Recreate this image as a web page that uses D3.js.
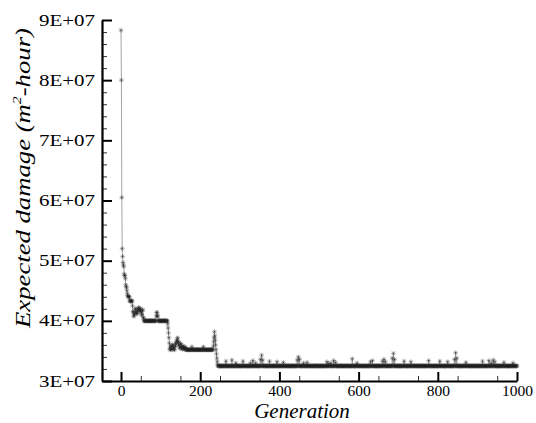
<!DOCTYPE html>
<html>
<head>
<meta charset="utf-8">
<script src="https://cdn.jsdelivr.net/npm/d3@7"></script>
<style>
  html, body { margin: 0; padding: 0; background: #fff; }
  svg { display: block; }
</style>
</head>
<body>
<svg id="chart" width="536" height="423"></svg>
<script>
// ---------------- DATA ----------------
// Run-length description of the series: value holds from runStart[i] until the next run start.
const runStart = [
  0, 1, 2, 3, 4, 5, 6, 7, 8, 9, 11, 12, 13, 14, 15, 16, 17, 18, 22, 29,
  30, 32, 34, 36, 38, 40, 42, 44, 46, 48, 50, 52, 54, 56, 58,
  89, 90, 92, 94,
  118, 119, 120, 121, 122, 123,
  124, 126, 128, 130, 132, 134, 136, 138, 140, 142, 143, 144, 146, 148, 150, 152, 154, 156, 158, 160, 162,
  164, 179, 180, 208, 209,
  233, 234, 235, 236, 237, 238, 239, 240, 241, 242, 243, 244, 245
];
const runValue = [
  8.83e7, 8.0e7, 6.05e7, 5.2e7, 5.07e7, 4.97e7, 4.93e7, 4.9e7, 4.78e7, 4.75e7, 4.7e7, 4.6e7, 4.57e7, 4.55e7, 4.5e7, 4.45e7, 4.42e7, 4.4e7, 4.33e7, 4.25e7,
  4.15e7, 4.08e7, 4.12e7, 4.2e7, 4.15e7, 4.12e7, 4.18e7, 4.22e7, 4.17e7, 4.2e7, 4.15e7, 4.1e7, 4.18e7, 4.05e7, 4.0e7,
  4.08e7, 4.14e7, 4.08e7, 4.0e7,
  3.95e7, 3.88e7, 3.8e7, 3.72e7, 3.63e7, 3.55e7,
  3.52e7, 3.58e7, 3.53e7, 3.6e7, 3.55e7, 3.52e7, 3.58e7, 3.62e7, 3.66e7, 3.7e7, 3.72e7, 3.65e7, 3.6e7, 3.55e7, 3.62e7, 3.57e7, 3.53e7, 3.58e7, 3.55e7, 3.53e7, 3.56e7,
  3.52e7, 3.57e7, 3.52e7, 3.57e7, 3.52e7,
  3.58e7, 3.65e7, 3.72e7, 3.82e7, 3.75e7, 3.68e7, 3.6e7, 3.52e7, 3.45e7, 3.38e7, 3.32e7, 3.27e7, 3.25e7
];
// Single-generation excursions above the final plateau
const spikeGen = [265, 280, 290, 308, 327, 333, 340, 352, 355, 358, 375, 394, 410, 445, 448, 451, 461, 470,
  520, 524, 530, 537, 542, 584, 596, 630, 635, 660, 664, 668, 685, 688, 691, 715, 732,
  777, 805, 825, 842, 845, 848, 871, 913, 929, 935, 940, 944, 967, 990];
const spikeVal = [3.33e7, 3.35e7, 3.3e7, 3.33e7, 3.3e7, 3.34e7, 3.3e7, 3.36e7, 3.43e7, 3.35e7, 3.33e7, 3.32e7, 3.31e7, 3.35e7, 3.4e7, 3.36e7, 3.3e7, 3.31e7,
  3.32e7, 3.29e7, 3.3e7, 3.34e7, 3.31e7, 3.37e7, 3.3e7, 3.32e7, 3.34e7, 3.33e7, 3.36e7, 3.32e7, 3.38e7, 3.46e7, 3.36e7, 3.33e7, 3.32e7,
  3.34e7, 3.33e7, 3.32e7, 3.36e7, 3.47e7, 3.38e7, 3.31e7, 3.33e7, 3.34e7, 3.3e7, 3.35e7, 3.32e7, 3.31e7, 3.3e7];
const lastGeneration = 1000;

const xTickValues = [0, 200, 400, 600, 800, 1000];
const yTickValues = [3e7, 4e7, 5e7, 6e7, 7e7, 8e7, 9e7];
const yTickLabels = ["3E+07", "4E+07", "5E+07", "6E+07", "7E+07", "8E+07", "9E+07"];
const xTitle = "Generation";

// ---------------- BUILD SERIES ----------------
const spikeMap = new Map(spikeGen.map((g, i) => [g, spikeVal[i]]));
const series = [];
let r = 0;
for (let g = 0; g <= lastGeneration; g++) {
  while (r + 1 < runStart.length && runStart[r + 1] <= g) r++;
  const v = spikeMap.has(g) ? spikeMap.get(g) : runValue[r];
  series.push({ g, v });
}

// ---------------- LAYOUT ----------------
const FONT = "'Times New Roman'";
const svg = d3.select("#chart");
const x = d3.scaleLinear().domain([-48, 1000]).range([102, 517]);
const y = d3.scaleLinear().domain([3e7, 9e7]).range([381, 20]);

// series line
svg.append("path")
  .datum(series)
  .attr("fill", "none")
  .attr("stroke", "#9a9a9a")
  .attr("stroke-width", 0.9)
  .attr("d", d3.line().x(d => x(d.g)).y(d => y(d.v)));

// markers (small asterisks)
const mr = 2.4;
const markerPath = (() => {
  const a = mr, b = mr * 0.72;
  return `M${-a},0L${a},0M0,${-a}L0,${a}M${-b},${-b}L${b},${b}M${-b},${b}L${b},${-b}`;
})();
svg.append("g")
  .selectAll("path")
  .data(series)
  .join("path")
  .attr("transform", d => `translate(${x(d.g)},${y(d.v)})`)
  .attr("d", markerPath)
  .attr("fill", "none")
  .attr("stroke", "#222")
  .attr("stroke-opacity", 0.4)
  .attr("stroke-width", 0.9);

// ---------------- AXES ----------------
const xMinor = d3.range(50, 1000, 100);
const yMinor = d3.range(3e7, 9e7 + 1, 2e6).filter(v => Math.abs(v / 1e7 - Math.round(v / 1e7)) > 1e-6);

const gxMinor = svg.append("g").attr("transform", "translate(0,381)")
  .call(d3.axisBottom(x).tickValues(xMinor).tickSizeInner(-5).tickSizeOuter(0).tickFormat(""));
gxMinor.select(".domain").remove();
gxMinor.selectAll("line").attr("stroke", "#333").attr("stroke-width", 1);

const gyMinor = svg.append("g").attr("transform", "translate(102,0)")
  .call(d3.axisLeft(y).tickValues(yMinor).tickSizeInner(-5).tickSizeOuter(0).tickFormat(""));
gyMinor.select(".domain").remove();
gyMinor.selectAll("line").attr("stroke", "#333").attr("stroke-width", 1);

const gx = svg.append("g").attr("transform", "translate(0,381)")
  .call(d3.axisBottom(x).tickValues(xTickValues).tickSizeInner(-9).tickSizeOuter(0).tickPadding(3.5).tickFormat(d3.format("d")));
gx.attr("font-family", null);
gx.select(".domain").attr("stroke", "#000").attr("stroke-width", 2.2);
gx.selectAll(".tick line").attr("stroke", "#000").attr("stroke-width", 2);
gx.selectAll("text").style("font-family", FONT).style("font-size", "15.5px").attr("fill", "#000");

const gy = svg.append("g").attr("transform", "translate(102,0)")
  .call(d3.axisLeft(y).tickValues(yTickValues).tickSizeInner(-10).tickSizeOuter(0).tickPadding(7)
    .tickFormat((d, i) => yTickLabels[i]));
gy.attr("font-family", null);
gy.select(".domain").attr("stroke", "#000").attr("stroke-width", 2.2);
gy.selectAll(".tick line").attr("stroke", "#000").attr("stroke-width", 2);
gy.selectAll("text").style("font-family", FONT).style("font-size", "16px").attr("fill", "#000")
  .attr("textLength", 56).attr("lengthAdjust", "spacingAndGlyphs");

// ---------------- TITLES ----------------
svg.append("text")
  .attr("x", 302).attr("y", 418.2)
  .attr("text-anchor", "middle")
  .style("font-family", FONT).style("font-size", "21px").style("font-style", "italic")
  .text(xTitle);

const yt = svg.append("text")
  .attr("text-anchor", "middle")
  .style("font-family", FONT).style("font-size", "22px").style("font-style", "italic");
yt.append("tspan").text("Expected damage (m");
yt.append("tspan").style("font-size", "13px").attr("dy", -9).text("2");
yt.append("tspan").attr("dy", 9).text("-hour)");
const len = yt.node().getComputedTextLength();
const sx = 300 / len;
yt.attr("transform", `translate(30,178) rotate(-90) scale(${sx},1)`);
</script>
</body>
</html>
